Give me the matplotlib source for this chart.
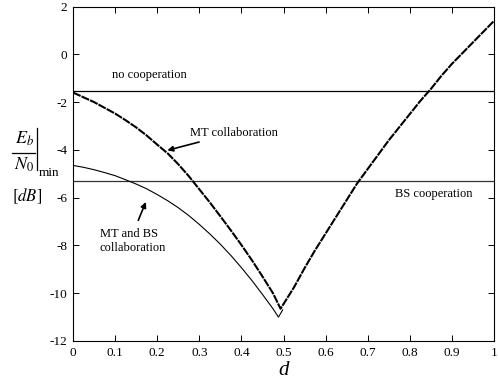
import numpy as np
import matplotlib
matplotlib.use('Agg')
import matplotlib.pyplot as plt
from matplotlib.lines import Line2D

plt.rcParams['font.family'] = ['Liberation Serif', 'DejaVu Serif']
plt.rcParams['mathtext.fontset'] = 'stix'
plt.rcParams['axes.unicode_minus'] = False

# levels of the two reference cases (dB)
no_coop = -1.55
bs_coop = -5.3

# MT collaboration curve
d_mt = [0.0, 0.025, 0.05, 0.075, 0.1, 0.125, 0.15, 0.175, 0.2, 0.225, 0.25,
        0.275, 0.3, 0.325, 0.35, 0.375, 0.4, 0.425, 0.45, 0.475, 0.493,
        0.525, 0.55, 0.575, 0.6, 0.625, 0.65, 0.675, 0.7, 0.725, 0.75,
        0.775, 0.8, 0.825, 0.85, 0.875, 0.9, 0.925, 0.95, 0.975, 1.0]
eb_mt = [-1.6, -1.8, -2.0, -2.24, -2.48, -2.76, -3.06, -3.4, -3.78, -4.15, -4.6,
         -5.1, -5.65, -6.2, -6.78, -7.37, -7.98, -8.62, -9.3, -10.0, -10.65,
         -9.75, -8.95, -8.2, -7.5, -6.8, -6.1, -5.4, -4.8, -4.2, -3.6,
         -3.05, -2.5, -1.95, -1.45, -0.9, -0.4, 0.05, 0.5, 0.95, 1.4]

# MT and BS collaboration curve
d_mtbs = [0.0, 0.025, 0.05, 0.075, 0.1, 0.125, 0.15, 0.175, 0.2, 0.225, 0.25,
          0.275, 0.3, 0.325, 0.35, 0.375, 0.4, 0.425, 0.45, 0.475, 0.488, 0.498]
eb_mtbs = [-4.65, -4.73, -4.83, -4.95, -5.08, -5.25, -5.43, -5.63, -5.87, -6.13, -6.42,
           -6.75, -7.12, -7.52, -7.95, -8.42, -8.93, -9.47, -10.05, -10.65, -11.0, -10.7]

xticks = [0, 0.1, 0.2, 0.3, 0.4, 0.5, 0.6, 0.7, 0.8, 0.9, 1]
xticklabels = ['0', '0.1', '0.2', '0.3', '0.4', '0.5', '0.6', '0.7', '0.8', '0.9', '1']
yticks = [2, 0, -2, -4, -6, -8, -10, -12]

fig = plt.figure(figsize=(4.98, 3.84), dpi=100)
ax = fig.add_axes([0.1466, 0.112, 0.8454, 0.871])

ax.axhline(no_coop, color='black', lw=0.9)
ax.axhline(bs_coop, color='#333333', lw=0.9)
ax.plot(d_mtbs, eb_mtbs, color='black', lw=0.8)
ax.plot(d_mt, eb_mt, color='black', lw=1.5, dashes=(4, 0.5))

ax.set_xlim(0, 1)
ax.set_ylim(-12, 2)
ax.set_xticks(xticks)
ax.set_xticklabels(xticklabels)
ax.set_yticks(yticks)
ax.set_yticklabels([str(t) for t in yticks])
ax.tick_params(direction='in', top=True, right=True, labelsize=9.5, length=4,
               width=0.7, pad=4)
for s in ax.spines.values():
    s.set_linewidth(0.8)

ax.text(0.093, -0.87, 'no cooperation', fontsize=9, va='center')
ax.text(0.765, -5.83, 'BS cooperation', fontsize=9, va='center')
ax.annotate('MT collaboration', xy=(0.224, -4.02), xytext=(0.278, -3.29),
            fontsize=9, va='center',
            arrowprops=dict(arrowstyle='-|>', color='black', lw=1.2,
                            mutation_scale=8, shrinkA=1, shrinkB=0))
ax.text(0.064, -7.82, 'MT and BS\ncollaboration', fontsize=9, va='center',
        linespacing=1.25)
ax.annotate('', xy=(0.173, -6.18), xytext=(0.155, -6.95),
            arrowprops=dict(arrowstyle='-|>', color='black', lw=1.2,
                            mutation_scale=8, shrinkA=0, shrinkB=0))

# y label: Eb/N0 |min  [dB], drawn from pieces
W, H = 498.0, 384.0
fig.text(24 / W, 1 - 139 / H, r'$E_b$', fontsize=13, ha='center', va='center')
fig.text(24 / W, 1 - 165 / H, r'$N_0$', fontsize=13, ha='center', va='center')
fig.add_artist(Line2D([12 / W, 35 / W], [1 - 153 / H, 1 - 153 / H],
                      color='black', lw=0.9))
fig.add_artist(Line2D([37 / W, 37 / W], [1 - 128 / H, 1 - 170 / H],
                      color='black', lw=0.9))
fig.text(39 / W, 1 - 173 / H, 'min', fontsize=9.5, ha='left', va='center')
fig.text(27 / W, 1 - 196 / H, r'$[dB]$', fontsize=12, ha='center', va='center')

ax.set_xlabel('d', fontsize=15, style='italic', labelpad=2)

fig.savefig('out.png', dpi=100)
